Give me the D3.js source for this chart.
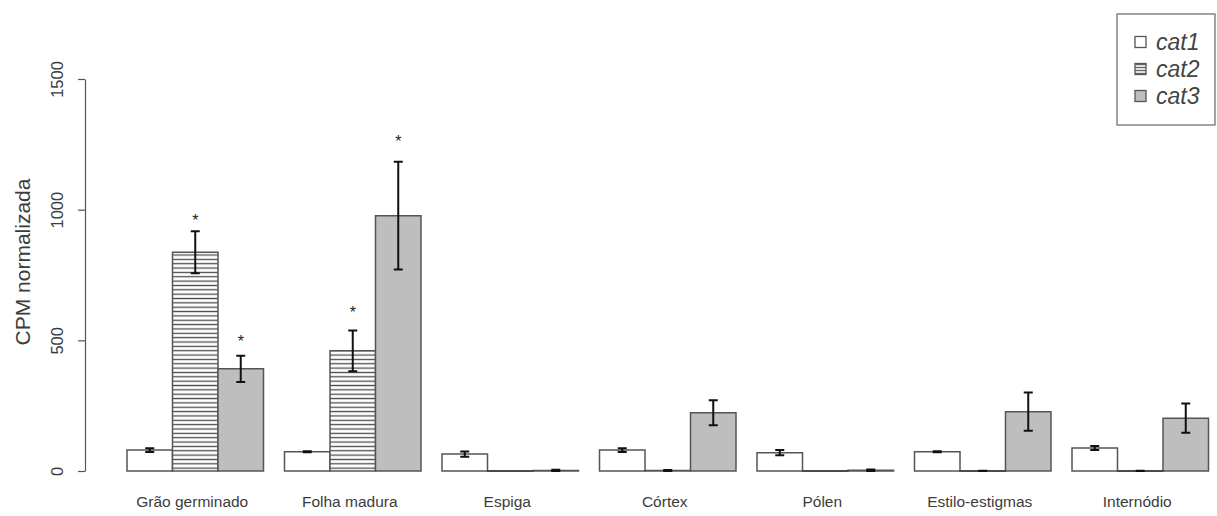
<!DOCTYPE html>
<html>
<head>
<meta charset="utf-8">
<script src="https://cdn.jsdelivr.net/npm/d3@7"></script>
<style>
  html, body { margin: 0; padding: 0; background: #fff; }
  svg { display: block; font-family: "Liberation Sans", Arial, sans-serif; }
</style>
</head>
<body>
<svg id="chart" width="1217" height="516"></svg>
<script>
// Tissues (groups along the x axis)
const categories = ["Grão germinado", "Folha madura", "Espiga", "Córtex", "Pólen", "Estilo-estigmas", "Internódio"];
const seriesNames = ["cat1", "cat2", "cat3"];

// Mean normalized CPM per tissue
const cat1Values = [80, 74, 65, 80, 70, 74, 88];
const cat2Values = [837, 460, 0, 2, 0, 0, 0];
const cat3Values = [391, 977, 2, 223, 3, 227, 202];

// Standard errors
const cat1Errors = [7, 2, 10, 7, 10, 2, 8];
const cat2Errors = [80, 78, 0, 2, 0, 1, 1];
const cat3Errors = [50, 206, 3, 48, 3, 73, 56];

// Significance marks: [tissue, series, level of the mark]
const starTissues = ["Grão germinado", "Grão germinado", "Folha madura", "Folha madura"];
const starSeries = ["cat2", "cat3", "cat2", "cat3"];
const starLevels = [971, 508, 619, 1273];

const yTicks = [0, 500, 1000, 1500];
const yLabel = "CPM normalizada";

const valuesBySeries = { cat1: cat1Values, cat2: cat2Values, cat3: cat3Values };
const errorsBySeries = { cat1: cat1Errors, cat2: cat2Errors, cat3: cat3Errors };

const rows = [];
categories.forEach((c, i) => {
  seriesNames.forEach(s => {
    rows.push({ category: c, series: s, value: valuesBySeries[s][i], error: errorsBySeries[s][i] });
  });
});

const svg = d3.select("#chart");

// Hatching for cat2
const defs = svg.append("defs");
const hatch = defs.append("pattern")
  .attr("id", "hatch")
  .attr("patternUnits", "userSpaceOnUse")
  .attr("x", 0).attr("y", 0.5)
  .attr("width", 10).attr("height", 4.35);
hatch.append("rect").attr("width", 10).attr("height", 4.35).attr("fill", "#fff");
hatch.append("line")
  .attr("x1", 0).attr("x2", 10).attr("y1", 2.2).attr("y2", 2.2)
  .attr("stroke", "#4a4a4a").attr("stroke-width", 1.3);

const fills = { cat1: "#ffffff", cat2: "url(#hatch)", cat3: "#bebebe" };

const x = d3.scaleBand()
  .domain(categories)
  .range([127, 1208.5])
  .paddingInner(21 / 157.5)
  .paddingOuter(0);

const xs = d3.scaleBand()
  .domain(seriesNames)
  .range([0, x.bandwidth()])
  .padding(0);

const y = d3.scaleLinear().domain([0, 1500]).range([471, 79]);

// Y axis
const yAxis = svg.append("g")
  .attr("transform", "translate(85,0)")
  .call(d3.axisLeft(y).tickValues(yTicks).tickFormat(d3.format("d"))
    .tickSize(7).tickSizeOuter(0).tickPadding(0));
yAxis.select(".domain").attr("stroke", "#555").attr("stroke-width", 1.2);
yAxis.selectAll(".tick line").attr("stroke", "#555").attr("stroke-width", 1.2);
yAxis.selectAll(".tick text")
  .attr("x", null).attr("dy", null)
  .attr("transform", "translate(-22,0) rotate(-90)")
  .attr("text-anchor", "middle")
  .attr("fill", "#3c3c3c")
  .style("font-size", "16.5px");

svg.append("text")
  .attr("transform", "translate(30,262) rotate(-90)")
  .attr("text-anchor", "middle")
  .attr("fill", "#3c3c3c")
  .style("font-size", "21px")
  .text(yLabel);

// Bars; a zero value is drawn as a flat strip on the baseline
const barX = d => x(d.category) + xs(d.series);
const bars = svg.append("g");
bars.selectAll("path.bar")
  .data(rows.filter(d => d.value > 0))
  .join("path")
  .attr("class", "bar")
  .attr("d", d => {
    const x0 = barX(d), x1 = x0 + xs.bandwidth();
    return `M${x0},${y(0)}V${y(d.value)}H${x1}V${y(0)}Z`;
  })
  .attr("fill", d => fills[d.series])
  .attr("stroke", "#555")
  .attr("stroke-width", 1.5);
bars.selectAll("rect.flat")
  .data(rows.filter(d => d.value <= 0))
  .join("rect")
  .attr("class", "flat")
  .attr("x", d => barX(d) - 0.75)
  .attr("width", xs.bandwidth() + 1.5)
  .attr("y", y(0) - 1)
  .attr("height", 2)
  .attr("fill", "#4a4a4a");

// Error bars
const cap = 4.5;
const eb = svg.append("g").attr("stroke", "#111").attr("stroke-width", 2).attr("fill", "none");
eb.selectAll("path")
  .data(rows.filter(d => d.error > 0))
  .join("path")
  .attr("d", d => {
    const cx = barX(d) + xs.bandwidth() / 2;
    const yt = y(d.value + d.error), yb = y(Math.max(0, d.value - d.error));
    return `M${cx},${yb}V${yt}M${cx - cap},${yt}H${cx + cap}M${cx - cap},${yb}H${cx + cap}`;
  });

// Significance stars
svg.append("g").selectAll("text")
  .data(starLevels.map((v, i) => ({ category: starTissues[i], series: starSeries[i], level: v })))
  .join("text")
  .attr("x", d => barX(d) + xs.bandwidth() / 2)
  .attr("y", d => y(d.level) + 8.5)
  .attr("text-anchor", "middle")
  .attr("fill", "#222")
  .style("font-size", "16px")
  .text("*");

// Tissue labels
svg.append("g").selectAll("text")
  .data(categories)
  .join("text")
  .attr("x", d => x(d) + x.bandwidth() / 2 - 3)
  .attr("y", 507)
  .attr("text-anchor", "middle")
  .attr("fill", "#3c3c3c")
  .style("font-size", "15.5px")
  .text(d => d);

// Legend
const legend = svg.append("g");
legend.append("rect")
  .attr("x", 1117).attr("y", 14).attr("width", 98).attr("height", 111)
  .attr("fill", "#fff").attr("stroke", "#666").attr("stroke-width", 1.2);
const ly = d3.scalePoint().domain(seriesNames).range([42, 96]);
defs.append("pattern")
  .attr("id", "hatchLegend")
  .attr("patternUnits", "userSpaceOnUse")
  .attr("x", 0).attr("y", 0.2)
  .attr("width", 10).attr("height", 3)
  .call(p => {
    p.append("rect").attr("width", 10).attr("height", 3).attr("fill", "#fff");
    p.append("line").attr("x1", 0).attr("x2", 10).attr("y1", 1.4).attr("y2", 1.4)
      .attr("stroke", "#4a4a4a").attr("stroke-width", 1.2);
  });
const legendFills = { cat1: "#fff", cat2: "url(#hatchLegend)", cat3: "#bebebe" };
const item = legend.selectAll("g.item")
  .data(seriesNames)
  .join("g")
  .attr("class", "item")
  .attr("transform", d => `translate(0,${ly(d)})`);
item.append("rect")
  .attr("x", 1135).attr("y", -5.5).attr("width", 11).attr("height", 11)
  .attr("fill", d => legendFills[d])
  .attr("stroke", "#555").attr("stroke-width", 1.3);
item.append("text")
  .attr("x", 1156).attr("y", 7.5)
  .attr("fill", "#444")
  .style("font-size", "23px")
  .style("font-style", "italic")
  .text(d => d);
</script>
</body>
</html>
